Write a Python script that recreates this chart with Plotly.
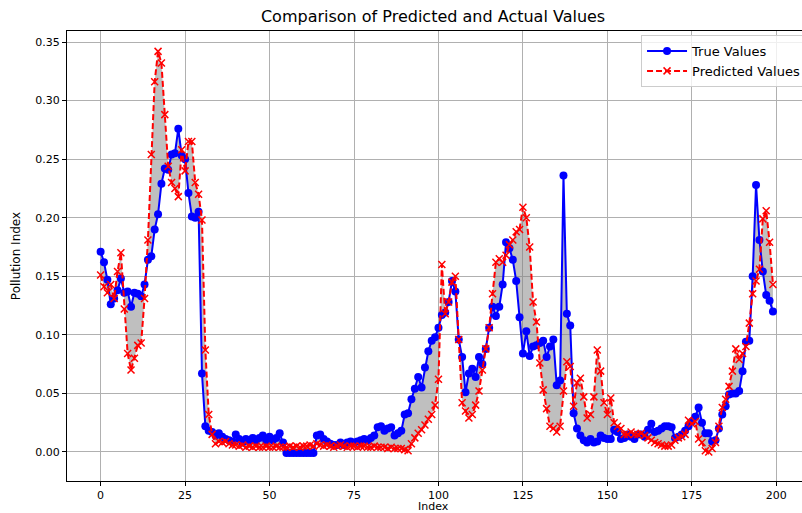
import plotly.graph_objects as go

true_values = [
    0.171, 0.162, 0.147, 0.126, 0.131, 0.138, 0.148, 0.136, 0.137, 0.124,
    0.136, 0.135, 0.133, 0.143, 0.164, 0.167, 0.190, 0.203, 0.229, 0.242,
    0.241, 0.254, 0.255, 0.276, 0.253, 0.250, 0.221, 0.201, 0.200, 0.205,
    0.067, 0.022, 0.018, 0.017, 0.014, 0.016, 0.013, 0.011, 0.010, 0.009,
    0.015, 0.011, 0.008, 0.011, 0.009, 0.012, 0.010, 0.012, 0.014, 0.010,
    0.013, 0.010, 0.012, 0.016, 0.008, -0.001, -0.001, -0.001, -0.001, -0.001,
    -0.001, -0.001, -0.001, -0.001, 0.014, 0.015, 0.011, 0.009, 0.007, 0.006,
    0.006, 0.008, 0.006, 0.008, 0.009, 0.008, 0.009, 0.010, 0.011, 0.010,
    0.012, 0.014, 0.021, 0.022, 0.018, 0.020, 0.021, 0.014, 0.016, 0.018,
    0.032, 0.033, 0.045, 0.054, 0.064, 0.055, 0.072, 0.086, 0.095, 0.098,
    0.106, 0.117, 0.119, 0.128, 0.146, 0.137, 0.096, 0.081, 0.051, 0.067,
    0.071, 0.064, 0.081, 0.075, 0.088, 0.106, 0.124, 0.116, 0.124, 0.143,
    0.179, 0.174, 0.164, 0.146, 0.115, 0.084, 0.103, 0.082, 0.090, 0.091,
    0.093, 0.095, 0.081, 0.090, 0.096, 0.057, 0.061, 0.236, 0.118, 0.108,
    0.033, 0.020, 0.014, 0.010, 0.008, 0.011, 0.008, 0.009, 0.014, 0.012,
    0.011, 0.011, 0.019, 0.017, 0.011, 0.012, 0.015, 0.013, 0.011, 0.015,
    0.015, 0.013, 0.019, 0.024, 0.017, 0.018, 0.020, 0.022, 0.022, 0.021,
    0.012, 0.013, 0.015, 0.018, 0.022, 0.026, 0.030, 0.038, 0.025, 0.016,
    0.016, 0.009, 0.010, 0.020, 0.032, 0.039, 0.049, 0.050, 0.050, 0.052,
    0.069, 0.094, 0.095, 0.150, 0.228, 0.181, 0.154, 0.134, 0.129, 0.120,
]

predicted_values = [
    0.151, 0.141, 0.136, 0.143, 0.131, 0.154, 0.170, 0.122, 0.084, 0.070,
    0.080, 0.091, 0.093, 0.131, 0.181, 0.254, 0.316, 0.342, 0.332, 0.288,
    0.244, 0.230, 0.225, 0.218, 0.258, 0.240, 0.265, 0.265, 0.230, 0.220,
    0.198, 0.087, 0.032, 0.015, 0.007, 0.009, 0.008, 0.009, 0.007, 0.006,
    0.006, 0.005, 0.006, 0.004, 0.005, 0.004, 0.005, 0.004, 0.004, 0.005,
    0.004, 0.004, 0.005, 0.004, 0.004, 0.004, 0.005, 0.004, 0.005, 0.004,
    0.005, 0.005, 0.006, 0.005, 0.007, 0.006, 0.005, 0.006, 0.005, 0.004,
    0.005, 0.006, 0.005, 0.004, 0.005, 0.005, 0.004, 0.005, 0.005, 0.004,
    0.004, 0.005, 0.004, 0.004, 0.004, 0.003, 0.004, 0.003, 0.003, 0.003,
    0.002, 0.001, 0.007, 0.012, 0.016, 0.019, 0.023, 0.028, 0.032, 0.040,
    0.062, 0.160, 0.118, 0.128, 0.145, 0.150, 0.096, 0.042, 0.035, 0.029,
    0.032, 0.040, 0.052, 0.070, 0.088, 0.106, 0.135, 0.162, 0.165, 0.162,
    0.168, 0.177, 0.181, 0.188, 0.190, 0.209, 0.200, 0.175, 0.128, 0.111,
    0.076, 0.053, 0.037, 0.022, 0.020, 0.017, 0.022, 0.052, 0.077, 0.073,
    0.039, 0.059, 0.063, 0.047, 0.029, 0.032, 0.047, 0.087, 0.069, 0.042,
    0.032, 0.046, 0.025, 0.022, 0.020, 0.015, 0.015, 0.017, 0.015, 0.015,
    0.016, 0.014, 0.012, 0.010, 0.008, 0.007, 0.006, 0.005, 0.005, 0.006,
    0.010, 0.012, 0.013, 0.015, 0.027, 0.024, 0.026, 0.011, 0.008, 0.001,
    0.000, 0.003, 0.008, 0.022, 0.038, 0.045, 0.056, 0.069, 0.088, 0.079,
    0.084, 0.090, 0.110, 0.135, 0.146, 0.156, 0.199, 0.206, 0.179, 0.143,
]

index = list(range(len(true_values)))

x_ticks = [0, 25, 50, 75, 100, 125, 150, 175, 200]
y_ticks = [0.00, 0.05, 0.10, 0.15, 0.20, 0.25, 0.30, 0.35]

font = "DejaVu Sans"

fig = go.Figure()

# shaded area between the two series
fig.add_trace(go.Scatter(x=index, y=true_values, mode="lines",
                         line=dict(width=0), showlegend=False, hoverinfo="skip"))
fig.add_trace(go.Scatter(x=index, y=predicted_values, mode="lines",
                         line=dict(width=0), fill="tonexty",
                         fillcolor="rgba(128,128,128,0.5)",
                         showlegend=False, hoverinfo="skip"))

fig.add_trace(go.Scatter(
    x=index, y=true_values, mode="lines+markers", name="True Values",
    line=dict(color="#0000ff", width=2),
    marker=dict(color="#0000ff", size=8, symbol="circle"),
))
fig.add_trace(go.Scatter(
    x=index, y=predicted_values, mode="lines+markers", name="Predicted Values",
    line=dict(color="#ff0000", width=2, dash="6px,3px"),
    marker=dict(color="#ff0000", size=7, symbol="x-thin",
                line=dict(color="#ff0000", width=1.5)),
))

axis_common = dict(
    showgrid=True, gridcolor="#b0b0b0", gridwidth=1,
    showline=True, linecolor="black", linewidth=1,
    ticks="outside", ticklen=4, tickcolor="black", tickwidth=1,
    zeroline=False, automargin=False,
    tickfont=dict(family=font, size=11, color="black"),
)

fig.update_layout(
    width=802, height=513,
    margin=dict(l=67, r=0, t=31, b=32, autoexpand=False),
    paper_bgcolor="white", plot_bgcolor="white",
    font=dict(family=font, size=11, color="black"),
    title=dict(text="Comparison of Predicted and Actual Values",
               x=0.54, xanchor="center", y=1 - 16 / 513, yanchor="middle",
               font=dict(family=font, size=16, color="black")),
    xaxis=dict(range=[-9.95, 207.6], tickvals=x_ticks, mirror=True,
               **axis_common),
    yaxis=dict(range=[-0.0248, 0.3594], tickvals=y_ticks, tickformat=".2f",
               title=dict(text="Pollution Index", standoff=12,
                          font=dict(family=font, size=12)),
               **axis_common),
    legend=dict(x=0.781, y=0.991, xanchor="left", yanchor="top",
                bgcolor="rgba(255,255,255,0.8)", bordercolor="#cccccc",
                borderwidth=1, font=dict(family=font, size=13),
                traceorder="normal", tracegroupgap=0, itemwidth=40),
    showlegend=True,
    annotations=[dict(text="Index", xref="paper", yref="paper",
                      x=(433 - 67) / 735, y=-(506 - 481) / 450,
                      xanchor="center", yanchor="middle", showarrow=False,
                      font=dict(family=font, size=11, color="black"))],
)

fig.write_html(
    "out.html",
    config={"displayModeBar": False, "staticPlot": True},
    post_script="document.body.style.margin='0';document.body.style.padding='0';"
                "document.documentElement.style.overflow='hidden';",
)
